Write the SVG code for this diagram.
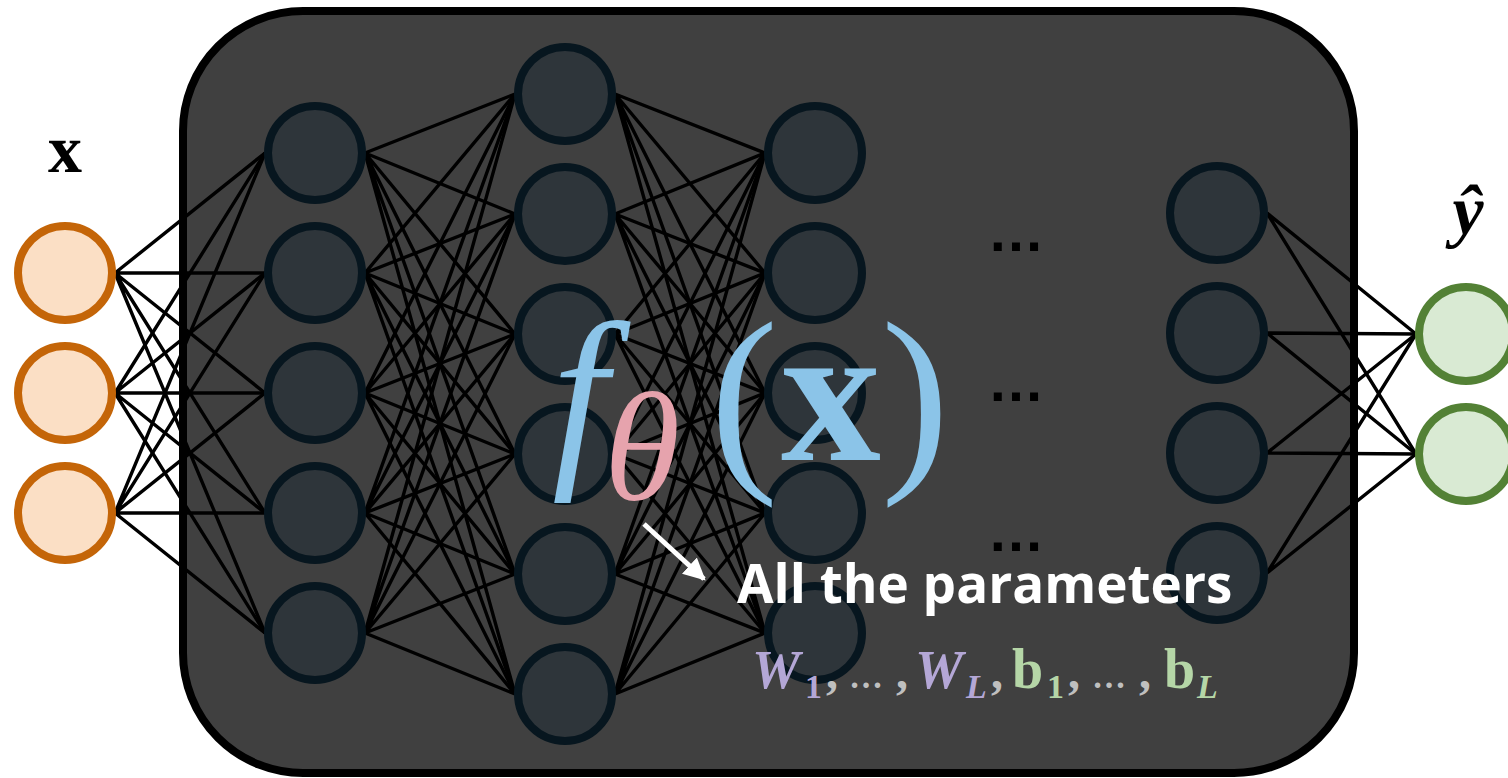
<svg xmlns="http://www.w3.org/2000/svg" width="1508" height="778" viewBox="0 0 1508 778">
<style>
.hid{fill:#2E353A;stroke:#07161F;stroke-width:8}
.inp{fill:#FBDFC5;stroke:#C46508;stroke-width:8}
.out{fill:#D9EAD3;stroke:#538135;stroke-width:8}
.con{fill:none;stroke:#000;stroke-width:3.4}
.ser{font-family:"Liberation Serif","DejaVu Serif",serif}
.dots{font-family:"Liberation Sans",Arial,sans-serif;font-weight:bold;font-size:57px;fill:#000;text-anchor:middle}
.pw{fill:#B4A7D6;font-weight:bold;font-style:italic}
.pb{fill:#B5D6A7;font-weight:bold}
.pc{fill:#BFBFBF;font-weight:bold}
.up{font-style:normal}
</style>
<defs>
<marker id="ah" viewBox="0 0 10 10" refX="9" refY="5" markerWidth="4.4" markerHeight="4.4" orient="auto" markerUnits="strokeWidth">
<path d="M0 0 L10 5 L0 10 Z" fill="#fff"/>
</marker>
</defs>
<rect id="box" x="183" y="11" width="1171" height="762" rx="120" ry="120" fill="#404040" stroke="#000" stroke-width="8"/>
<g id="connectors" class="con">
<path d="M115 273L265 153M115 273L265 273M115 273L265 393M115 273L265 513M115 273L265 633"/>
<path d="M115 393L265 153M115 393L265 273M115 393L265 393M115 393L265 513M115 393L265 633"/>
<path d="M115 513L265 153M115 513L265 273M115 513L265 393M115 513L265 513M115 513L265 633"/>
<path d="M365 153L515 94M365 153L515 214M365 153L515 334M365 153L515 454M365 153L515 574M365 153L515 694"/>
<path d="M365 273L515 94M365 273L515 214M365 273L515 334M365 273L515 454M365 273L515 574M365 273L515 694"/>
<path d="M365 393L515 94M365 393L515 214M365 393L515 334M365 393L515 454M365 393L515 574M365 393L515 694"/>
<path d="M365 513L515 94M365 513L515 214M365 513L515 334M365 513L515 454M365 513L515 574M365 513L515 694"/>
<path d="M365 633L515 94M365 633L515 214M365 633L515 334M365 633L515 454M365 633L515 574M365 633L515 694"/>
<path d="M615 94L765 153M615 94L765 273M615 94L765 393M615 94L765 513M615 94L765 633"/>
<path d="M615 214L765 153M615 214L765 273M615 214L765 393M615 214L765 513M615 214L765 633"/>
<path d="M615 334L765 153M615 334L765 273M615 334L765 393M615 334L765 513M615 334L765 633"/>
<path d="M615 454L765 153M615 454L765 273M615 454L765 393M615 454L765 513M615 454L765 633"/>
<path d="M615 574L765 153M615 574L765 273M615 574L765 393M615 574L765 513M615 574L765 633"/>
<path d="M615 694L765 153M615 694L765 273M615 694L765 393M615 694L765 513M615 694L765 633"/>
<path d="M1267 213L1416 334M1267 213L1416 454"/>
<path d="M1267 333L1416 334M1267 333L1416 454"/>
<path d="M1267 453L1416 334M1267 453L1416 454"/>
<path d="M1267 573L1416 334M1267 573L1416 454"/>
</g>
<g id="input-layer">
<circle id="in1" class="inp" cx="65" cy="273" r="47"/>
<circle id="in2" class="inp" cx="65" cy="393" r="47"/>
<circle id="in3" class="inp" cx="65" cy="513" r="47"/>
</g>
<g id="hidden-1">
<circle id="h1a" class="hid" cx="315" cy="153" r="47"/>
<circle id="h1b" class="hid" cx="315" cy="273" r="47"/>
<circle id="h1c" class="hid" cx="315" cy="393" r="47"/>
<circle id="h1d" class="hid" cx="315" cy="513" r="47"/>
<circle id="h1e" class="hid" cx="315" cy="633" r="47"/>
</g>
<g id="hidden-2">
<circle id="h2a" class="hid" cx="565" cy="94" r="47"/>
<circle id="h2b" class="hid" cx="565" cy="214" r="47"/>
<circle id="h2c" class="hid" cx="565" cy="334" r="47"/>
<circle id="h2d" class="hid" cx="565" cy="454" r="47"/>
<circle id="h2e" class="hid" cx="565" cy="574" r="47"/>
<circle id="h2f" class="hid" cx="565" cy="694" r="47"/>
</g>
<g id="hidden-3">
<circle id="h3a" class="hid" cx="815" cy="153" r="47"/>
<circle id="h3b" class="hid" cx="815" cy="273" r="47"/>
<circle id="h3c" class="hid" cx="815" cy="393" r="47"/>
<circle id="h3d" class="hid" cx="815" cy="513" r="47"/>
<circle id="h3e" class="hid" cx="815" cy="633" r="47"/>
</g>
<g id="hidden-L">
<circle id="hLa" class="hid" cx="1217" cy="213" r="47"/>
<circle id="hLb" class="hid" cx="1217" cy="333" r="47"/>
<circle id="hLc" class="hid" cx="1217" cy="453" r="47"/>
<circle id="hLd" class="hid" cx="1217" cy="573" r="47"/>
</g>
<g id="output-layer">
<circle id="out1" class="out" cx="1466" cy="334" r="47"/>
<circle id="out2" class="out" cx="1466" cy="454" r="47"/>
</g>
<g id="ellipses">
<text class="dots" x="1016" y="251">…</text>
<text class="dots" x="1016" y="401">…</text>
<text class="dots" x="1016" y="551">…</text>
</g>
<g id="labels">
<text class="ser" x="65" y="172" font-size="68" font-weight="bold" text-anchor="middle" fill="#000">x</text>
<text class="ser" x="1468" y="234" font-size="70" font-weight="bold" font-style="italic" text-anchor="middle" fill="#000">ŷ</text>
</g>
<g id="formula" class="ser">
<text x="552" y="461" font-size="200" font-style="italic" fill="#8BC4E8">f</text>
<text x="604" y="499" font-size="155" font-style="italic" fill="#E6A3AD">θ</text>
<text x="710" y="464" font-size="205" fill="#8BC4E8">(</text>
<text x="781" y="460" font-size="200" font-weight="bold" fill="#8BC4E8">x</text>
<text x="881" y="464" font-size="205" fill="#8BC4E8">)</text>
</g>
<g id="annotation">
<line x1="644" y1="524" x2="704" y2="579" stroke="#fff" stroke-width="5" marker-end="url(#ah)"/>
<text x="737" y="603" font-family="'Open Sans','Noto Sans',sans-serif" font-weight="bold" font-size="53" fill="#fff">All the parameters</text>
<text class="ser">
<tspan class="pw" x="752" y="688" font-size="54">W</tspan><tspan class="pw up" x="805" y="698" font-size="34">1</tspan><tspan class="pc" x="826" y="688" font-size="48">,</tspan><tspan class="pc" x="849" y="688" font-size="34">…</tspan><tspan class="pc" x="896" y="688" font-size="48">,</tspan><tspan class="pw" x="915" y="688" font-size="54">W</tspan><tspan class="pw" x="966" y="698" font-size="34">L</tspan><tspan class="pc" x="991" y="688" font-size="48">,</tspan><tspan class="pb" x="1012" y="688" font-size="56">b</tspan><tspan class="pb" x="1047" y="698" font-size="34">1</tspan><tspan class="pc" x="1068" y="688" font-size="48">,</tspan><tspan class="pc" x="1092" y="688" font-size="34">…</tspan><tspan class="pc" x="1139" y="688" font-size="48">,</tspan><tspan class="pb" x="1164" y="688" font-size="56">b</tspan><tspan class="pb" x="1197" y="698" font-size="34" font-style="italic">L</tspan>
</text>
</g>
</svg>
